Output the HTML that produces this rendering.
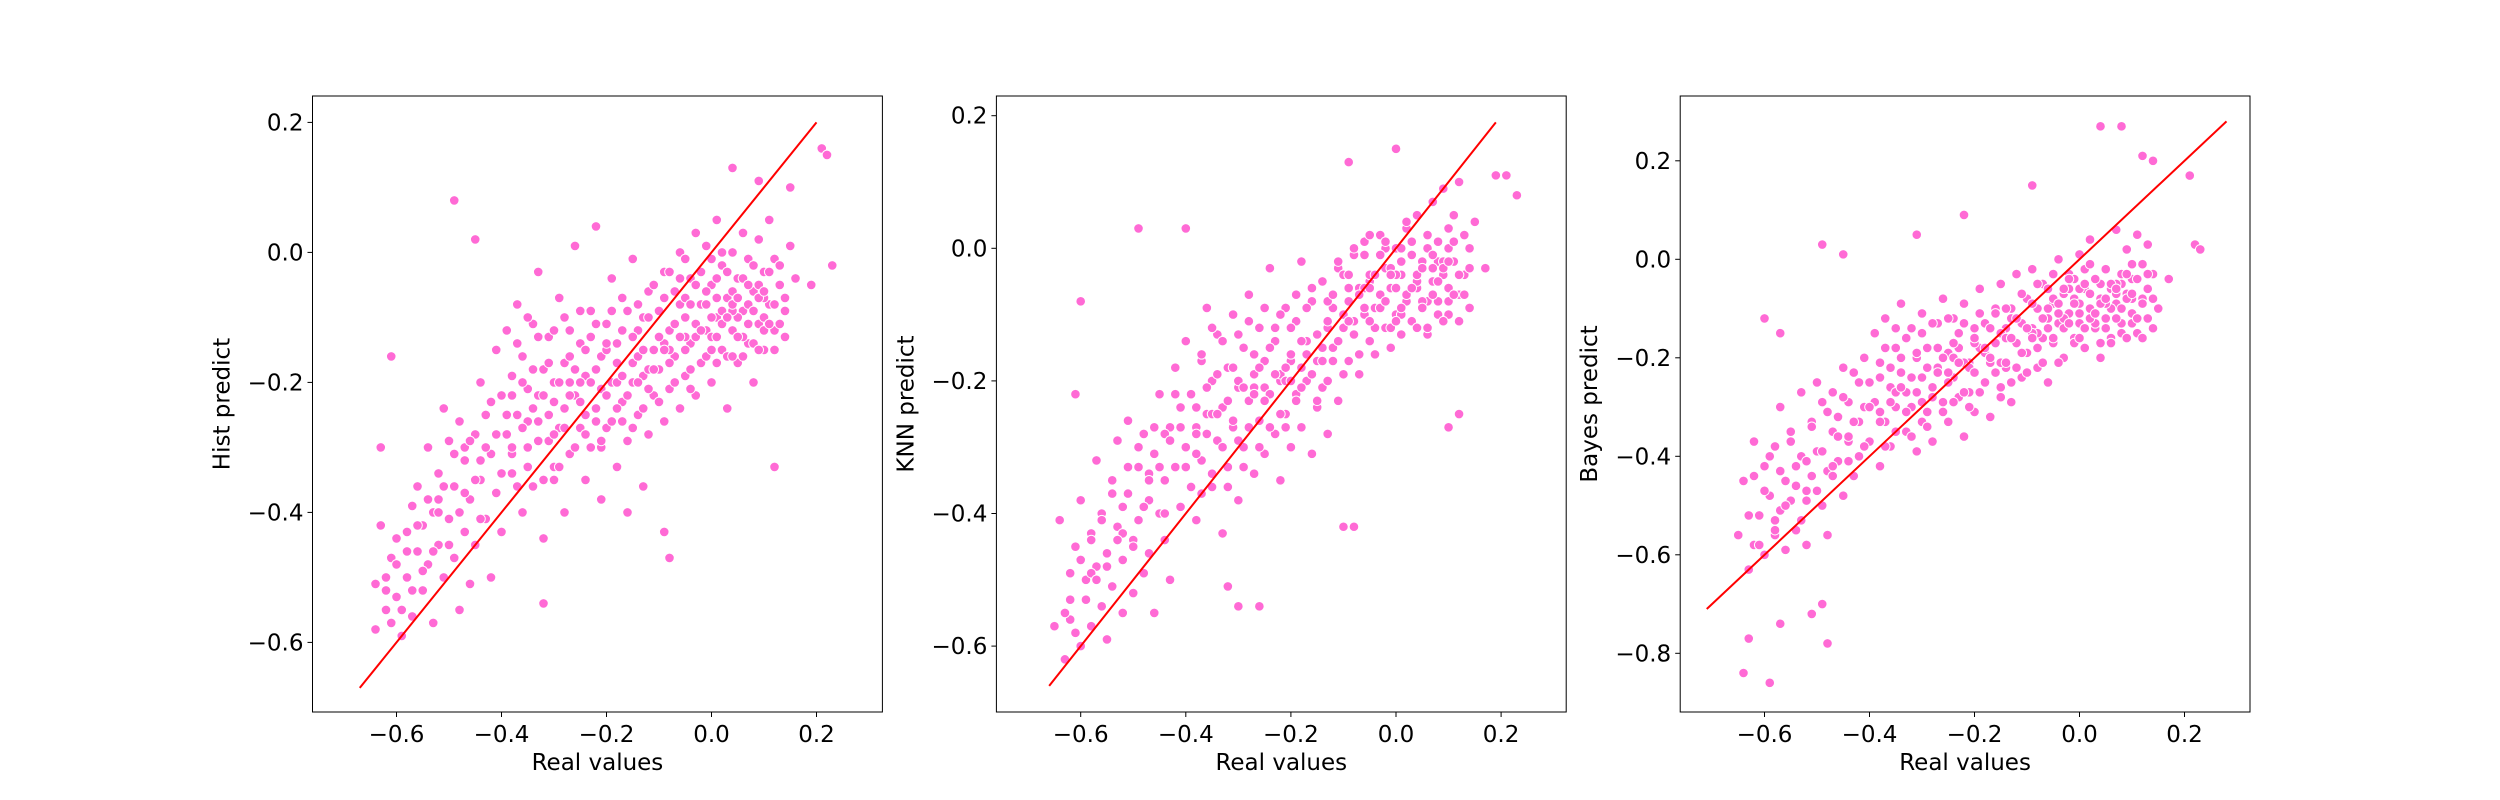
<!DOCTYPE html>
<html><head><meta charset="utf-8"><style>
html,body{margin:0;padding:0;background:#fff;}
svg{display:block;font-family:"DejaVu Sans","Liberation Sans",sans-serif;}
</style></head><body>
<svg id="fig" width="2500" height="800" viewBox="0 0 2500 800"></svg>
<script>
// ---- Panel 1: Hist predict ----
const histX = [-0.64,-0.64,-0.63,-0.62,-0.61,-0.60,-0.60,-0.59,-0.58,-0.58,-0.57,-0.57,-0.56,-0.56,-0.55,-0.55,-0.54,-0.54,-0.53,-0.53,-0.52,-0.52,-0.51,-0.51,-0.50,-0.50,-0.49,-0.49,-0.48,-0.48,-0.47,-0.47,-0.46,-0.46,-0.45,-0.45,-0.44,-0.44,-0.43,-0.43,-0.42,-0.42,-0.41,-0.41,
-0.40,-0.40,-0.39,-0.39,-0.38,-0.38,-0.37,-0.37,-0.36,-0.36,-0.35,-0.35,-0.34,-0.34,-0.33,-0.33,-0.32,-0.32,-0.31,-0.31,-0.30,-0.30,-0.29,-0.29,-0.28,-0.28,-0.27,-0.27,-0.26,-0.26,-0.25,-0.25,-0.24,-0.24,-0.23,-0.23,-0.22,-0.22,-0.21,-0.21,-0.20,-0.20,-0.19,-0.19,-0.18,-0.18,-0.17,-0.17,-0.16,-0.16,-0.15,-0.15,-0.14,-0.14,-0.13,-0.13,-0.12,-0.12,-0.11,-0.11,
-0.10,-0.10,-0.09,-0.09,-0.08,-0.08,-0.07,-0.07,-0.06,-0.06,-0.05,-0.05,-0.04,-0.04,-0.03,-0.03,-0.02,-0.02,-0.01,-0.01,0.00,0.00,0.01,0.01,0.02,0.02,0.03,0.03,0.04,0.04,0.05,0.05,0.06,0.06,0.07,0.07,0.08,0.08,0.09,0.09,0.10,0.10,0.11,0.11,0.12,0.12,0.13,0.14,0.15,0.16,
-0.06,-0.03,0.00,0.02,0.04,0.06,-0.01,0.03,0.05,0.08,-0.08,-0.04,0.00,0.07,0.09,-0.05,0.01,0.10,-0.12,-0.15,-0.18,-0.20,-0.22,-0.25,-0.28,-0.30,-0.33,-0.24,-0.14,
-0.49,-0.45,-0.61,-0.63,0.21,0.22,0.23,0.12,-0.08,-0.32,0.04,0.09,0.15,-0.09,0.19,
-0.35,-0.38,-0.30,-0.27,-0.21,-0.17,-0.13,-0.09,-0.05,-0.02,0.01,0.04,0.07,0.10,0.13,-0.44,-0.47,-0.52,-0.58,-0.62];
const histY = [-0.58,-0.51,-0.42,-0.55,-0.47,-0.53,-0.44,-0.59,-0.50,-0.43,-0.56,-0.39,-0.46,-0.36,-0.52,-0.42,-0.30,-0.48,-0.40,-0.57,-0.34,-0.45,-0.50,-0.24,-0.41,-0.29,-0.47,-0.36,-0.55,-0.26,-0.43,-0.32,-0.51,-0.38,-0.28,-0.45,-0.20,-0.35,-0.41,-0.25,-0.31,-0.50,-0.15,-0.37,
-0.22,-0.43,-0.28,-0.12,-0.34,-0.19,-0.08,-0.25,-0.40,-0.16,-0.30,-0.21,-0.11,-0.36,-0.26,-0.03,-0.18,-0.44,-0.29,-0.13,-0.23,-0.35,-0.07,-0.27,-0.17,-0.40,-0.31,-0.12,-0.22,0.01,-0.27,-0.14,-0.35,-0.19,-0.09,-0.30,0.04,-0.24,-0.16,-0.38,-0.11,-0.27,-0.20,-0.04,-0.33,-0.14,-0.23,-0.07,-0.29,-0.40,-0.17,-0.01,-0.25,-0.12,-0.36,-0.19,-0.06,-0.28,-0.15,-0.22,
-0.09,-0.18,-0.03,-0.26,-0.12,-0.21,-0.06,-0.16,0.00,-0.24,-0.10,-0.19,-0.04,-0.14,0.03,-0.22,-0.08,-0.17,-0.12,0.01,-0.05,-0.20,-0.10,0.05,-0.15,-0.02,-0.07,-0.24,-0.12,0.00,-0.04,-0.17,-0.09,0.03,-0.14,-0.01,-0.06,-0.20,-0.11,0.02,-0.03,-0.15,-0.08,0.05,-0.12,-0.01,-0.05,-0.09,0.01,-0.04,
-0.08,-0.11,-0.13,-0.09,-0.06,-0.13,-0.06,-0.16,-0.10,-0.02,-0.15,-0.18,-0.01,-0.08,-0.05,-0.07,-0.17,-0.10,-0.18,-0.13,-0.20,-0.15,-0.18,-0.20,-0.24,-0.20,-0.22,-0.25,-0.16,
0.08,0.02,-0.16,-0.30,0.16,0.15,-0.02,-0.33,-0.47,-0.54,0.13,0.11,0.10,-0.43,-0.05,
-0.26,-0.31,-0.33,-0.20,-0.30,-0.26,-0.10,-0.14,-0.13,-0.03,-0.07,-0.09,-0.11,-0.07,-0.02,-0.32,-0.30,-0.38,-0.46,-0.52];
const histX2 = [-0.38,-0.38,-0.37,-0.37,-0.36,-0.36,-0.35,-0.35,-0.34,-0.34,-0.33,-0.33,-0.32,-0.32,-0.31,-0.31,-0.30,-0.30,-0.29,-0.29,-0.28,-0.28,-0.27,-0.27,-0.26,-0.26,-0.25,-0.25,-0.24,-0.24,-0.23,-0.23,-0.22,-0.22,-0.21,-0.21,-0.20,-0.20,-0.19,-0.19,-0.18,-0.18,-0.17,-0.17,-0.16,-0.16,-0.15,-0.15,-0.14,-0.14,-0.13,-0.13,-0.12,-0.12,-0.11,-0.11,-0.10,-0.10,-0.09,-0.09,-0.08,-0.08,-0.07,-0.07,-0.06,-0.06,-0.05,-0.05,-0.04,-0.04,-0.03,-0.03,-0.02,-0.02,-0.01,-0.01,0.00,0.00,0.01,0.01,0.02,0.02,0.03,0.03,0.04,0.04,0.05,0.05,0.06,0.06,0.07,0.07,0.08,0.08,0.09,0.09,0.10,0.10,0.11,0.11,0.12,0.12,0.13,0.13,0.14,0.14,
-0.62,-0.61,-0.60,-0.59,-0.58,-0.57,-0.56,-0.55,-0.54,-0.53,-0.52,-0.51,-0.50,-0.49,-0.48,-0.47,-0.46,-0.45,-0.44,-0.43,-0.42,-0.41,-0.40,-0.39];
const histY2 = [-0.22,-0.30,-0.14,-0.36,-0.27,-0.20,-0.10,-0.33,-0.24,-0.18,-0.29,-0.13,-0.22,-0.35,-0.17,-0.25,-0.12,-0.28,-0.20,-0.33,-0.10,-0.27,-0.22,-0.16,-0.30,-0.18,-0.09,-0.23,-0.15,-0.28,-0.20,-0.13,-0.26,-0.11,-0.21,-0.29,-0.14,-0.22,-0.09,-0.26,-0.17,-0.24,-0.12,-0.19,-0.22,-0.09,-0.20,-0.27,-0.08,-0.20,-0.15,-0.24,-0.10,-0.21,-0.05,-0.18,-0.13,-0.23,-0.07,-0.15,-0.03,-0.17,-0.11,-0.20,-0.04,-0.13,-0.15,-0.01,-0.08,-0.21,-0.13,-0.05,-0.03,-0.12,-0.16,-0.08,-0.10,-0.15,-0.04,-0.13,-0.11,0.00,-0.03,-0.10,-0.16,-0.08,-0.07,-0.13,-0.04,-0.16,-0.11,-0.05,-0.14,-0.09,-0.07,-0.15,-0.12,-0.06,-0.03,-0.11,-0.08,-0.15,-0.11,-0.02,-0.07,-0.13,
-0.50,-0.57,-0.48,-0.55,-0.46,-0.52,-0.42,-0.49,-0.38,-0.46,-0.40,-0.36,-0.45,-0.31,-0.40,-0.37,-0.29,-0.35,-0.41,-0.30,-0.23,-0.28,-0.34,-0.25];

// ---- Panel 2: KNN predict ----
const knnX = [-0.65,-0.64,-0.63,-0.62,-0.61,-0.60,-0.60,-0.59,-0.58,-0.58,-0.57,-0.57,-0.56,-0.56,-0.55,-0.55,-0.54,-0.54,-0.53,-0.53,-0.52,-0.52,-0.51,-0.51,-0.50,-0.50,-0.49,-0.49,-0.48,-0.48,-0.47,-0.47,-0.46,-0.46,-0.45,-0.45,-0.44,-0.44,-0.43,-0.43,-0.42,-0.42,-0.41,-0.41,
-0.40,-0.40,-0.39,-0.39,-0.38,-0.38,-0.37,-0.37,-0.36,-0.36,-0.35,-0.35,-0.34,-0.34,-0.33,-0.33,-0.32,-0.32,-0.31,-0.31,-0.30,-0.30,-0.29,-0.29,-0.28,-0.28,-0.27,-0.27,-0.26,-0.26,-0.25,-0.25,-0.24,-0.24,-0.23,-0.23,-0.22,-0.22,-0.21,-0.21,-0.20,-0.20,-0.19,-0.19,-0.18,-0.18,-0.17,-0.17,-0.16,-0.16,-0.15,-0.15,-0.14,-0.14,-0.13,-0.13,-0.12,-0.12,-0.11,-0.11,
-0.10,-0.10,-0.09,-0.09,-0.08,-0.08,-0.07,-0.07,-0.06,-0.06,-0.05,-0.05,-0.04,-0.04,-0.03,-0.03,-0.02,-0.02,-0.01,-0.01,0.00,0.00,0.01,0.01,0.02,0.02,0.03,0.03,0.04,0.04,0.05,0.05,0.06,0.06,0.07,0.07,0.08,0.08,0.09,0.09,0.10,0.10,0.11,0.11,0.12,0.12,0.13,0.14,0.15,0.17,
-0.06,-0.03,0.00,0.02,0.04,0.06,-0.01,0.03,0.05,0.08,-0.08,-0.04,0.00,0.07,0.09,-0.05,0.01,0.10,-0.12,-0.15,-0.18,-0.20,-0.22,-0.25,-0.28,-0.30,-0.33,-0.24,-0.14,
-0.60,-0.61,-0.49,-0.40,-0.09,0.00,0.19,0.21,0.23,-0.30,-0.26,-0.10,-0.08,0.10,0.12,-0.32,
-0.35,-0.38,-0.30,-0.27,-0.21,-0.17,-0.13,-0.09,-0.05,-0.02,0.01,0.04,0.07,0.10,0.13,-0.44,-0.47,-0.52,-0.58,-0.62];
const knnY = [-0.57,-0.41,-0.62,-0.53,-0.45,-0.60,-0.38,-0.50,-0.57,-0.43,-0.48,-0.32,-0.54,-0.40,-0.46,-0.59,-0.35,-0.51,-0.42,-0.29,-0.47,-0.55,-0.37,-0.26,-0.44,-0.52,-0.33,-0.41,-0.49,-0.28,-0.38,-0.46,-0.31,-0.55,-0.40,-0.22,-0.35,-0.44,-0.27,-0.50,-0.33,-0.18,-0.39,-0.24,
-0.30,-0.14,-0.36,-0.22,-0.27,-0.41,-0.17,-0.32,-0.25,-0.09,-0.36,-0.20,-0.29,-0.13,-0.24,-0.43,-0.18,-0.33,-0.10,-0.27,-0.21,-0.38,-0.15,-0.30,-0.23,-0.07,-0.34,-0.19,-0.26,-0.12,-0.31,-0.17,-0.22,-0.03,-0.28,-0.14,-0.20,-0.35,-0.09,-0.25,-0.17,-0.30,-0.11,-0.22,-0.02,-0.27,-0.14,-0.20,-0.08,-0.31,-0.17,-0.24,-0.05,-0.21,-0.12,-0.28,-0.15,-0.09,-0.23,-0.03,
-0.12,-0.04,-0.17,-0.08,-0.01,-0.13,-0.06,-0.19,-0.10,0.01,-0.14,-0.05,-0.09,-0.16,0.02,-0.07,-0.12,-0.03,-0.15,-0.06,0.00,-0.10,-0.04,-0.13,0.03,-0.08,-0.11,-0.01,-0.06,0.05,-0.09,-0.02,-0.13,0.02,-0.05,0.07,-0.08,0.01,-0.04,0.09,-0.10,0.03,-0.02,0.05,-0.07,0.10,-0.04,0.00,0.04,-0.03,
-0.06,-0.09,-0.10,-0.07,-0.05,-0.08,-0.03,-0.11,-0.08,-0.02,-0.11,-0.12,-0.04,-0.05,-0.02,-0.04,-0.10,-0.06,-0.15,-0.13,-0.18,-0.16,-0.19,-0.21,-0.23,-0.20,-0.24,-0.22,-0.15,
-0.08,-0.22,0.03,0.03,0.13,0.15,0.11,0.11,0.08,-0.54,-0.54,-0.42,-0.42,-0.27,-0.25,-0.51,
-0.25,-0.28,-0.29,-0.21,-0.18,-0.16,-0.08,-0.06,-0.06,0.00,-0.02,-0.04,-0.03,0.00,0.02,-0.28,-0.34,-0.43,-0.49,-0.56];
const knnX2 = [-0.38,-0.38,-0.37,-0.37,-0.36,-0.36,-0.35,-0.35,-0.34,-0.34,-0.33,-0.33,-0.32,-0.32,-0.31,-0.31,-0.30,-0.30,-0.29,-0.29,-0.28,-0.28,-0.27,-0.27,-0.26,-0.26,-0.25,-0.25,-0.24,-0.24,-0.23,-0.23,-0.22,-0.22,-0.21,-0.21,-0.20,-0.20,-0.19,-0.19,-0.18,-0.18,-0.17,-0.17,-0.16,-0.16,-0.15,-0.15,-0.14,-0.14,-0.13,-0.13,-0.12,-0.12,-0.11,-0.11,-0.10,-0.10,-0.09,-0.09,-0.08,-0.08,-0.07,-0.07,-0.06,-0.06,-0.05,-0.05,-0.04,-0.04,-0.03,-0.03,-0.02,-0.02,-0.01,-0.01,0.00,0.00,0.01,0.01,0.02,0.02,0.03,0.03,0.04,0.04,0.05,0.05,0.06,0.06,0.07,0.07,0.08,0.08,0.09,0.09,0.10,0.10,0.11,0.11,0.12,0.12,0.13,0.13,0.14,0.14,
-0.63,-0.62,-0.61,-0.60,-0.59,-0.58,-0.57,-0.56,-0.55,-0.54,-0.53,-0.52,-0.51,-0.50,-0.49,-0.48,-0.47,-0.46,-0.45,-0.44,-0.43,-0.42,-0.41,-0.40];
const knnY2 = [-0.24,-0.31,-0.16,-0.37,-0.28,-0.21,-0.12,-0.34,-0.25,-0.19,-0.30,-0.14,-0.23,-0.36,-0.18,-0.26,-0.13,-0.29,-0.21,-0.33,-0.11,-0.27,-0.22,-0.16,-0.30,-0.18,-0.09,-0.23,-0.15,-0.27,-0.19,-0.12,-0.25,-0.10,-0.20,-0.27,-0.12,-0.20,-0.07,-0.23,-0.14,-0.21,-0.09,-0.16,-0.19,-0.06,-0.17,-0.23,-0.05,-0.17,-0.11,-0.20,-0.07,-0.17,-0.02,-0.14,-0.10,-0.19,-0.04,-0.11,0.00,-0.13,-0.07,-0.16,-0.01,-0.09,-0.11,0.02,-0.04,-0.16,-0.09,-0.01,0.01,-0.08,-0.12,-0.04,-0.06,-0.11,0.00,-0.09,-0.07,0.04,0.01,-0.06,-0.12,-0.04,-0.03,-0.09,0.00,-0.12,-0.07,-0.01,-0.10,-0.05,-0.03,-0.11,-0.08,-0.02,0.01,-0.07,-0.04,-0.11,-0.07,0.02,-0.03,-0.09,
-0.55,-0.49,-0.58,-0.47,-0.53,-0.44,-0.50,-0.41,-0.48,-0.37,-0.44,-0.39,-0.33,-0.45,-0.30,-0.39,-0.35,-0.27,-0.33,-0.40,-0.29,-0.22,-0.27,-0.33];

// ---- Panel 3: Bayes predict ----
const bayesX = [-0.65,-0.64,-0.63,-0.62,-0.61,-0.60,-0.60,-0.59,-0.58,-0.58,-0.57,-0.57,-0.56,-0.56,-0.55,-0.55,-0.54,-0.54,-0.53,-0.53,-0.52,-0.52,-0.51,-0.51,-0.50,-0.50,-0.49,-0.49,-0.48,-0.48,-0.47,-0.47,-0.46,-0.46,-0.45,-0.45,-0.44,-0.44,-0.43,-0.43,-0.42,-0.42,-0.41,-0.41,
-0.40,-0.40,-0.39,-0.39,-0.38,-0.38,-0.37,-0.37,-0.36,-0.36,-0.35,-0.35,-0.34,-0.34,-0.33,-0.33,-0.32,-0.32,-0.31,-0.31,-0.30,-0.30,-0.29,-0.29,-0.28,-0.28,-0.27,-0.27,-0.26,-0.26,-0.25,-0.25,-0.24,-0.24,-0.23,-0.23,-0.22,-0.22,-0.21,-0.21,-0.20,-0.20,-0.19,-0.19,-0.18,-0.18,-0.17,-0.17,-0.16,-0.16,-0.15,-0.15,-0.14,-0.14,-0.13,-0.13,-0.12,-0.12,-0.11,-0.11,
-0.10,-0.10,-0.09,-0.09,-0.08,-0.08,-0.07,-0.07,-0.06,-0.06,-0.05,-0.05,-0.04,-0.04,-0.03,-0.03,-0.02,-0.02,-0.01,-0.01,0.00,0.00,0.01,0.01,0.02,0.02,0.03,0.03,0.04,0.04,0.05,0.05,0.06,0.06,0.07,0.07,0.08,0.08,0.09,0.09,0.10,0.10,0.11,0.11,0.12,0.12,0.13,0.14,0.15,0.17,
-0.06,-0.03,0.00,0.02,0.04,0.06,-0.01,0.03,0.05,0.08,-0.08,-0.04,0.00,0.07,0.09,-0.05,0.01,0.10,-0.12,-0.15,-0.18,-0.20,-0.22,-0.25,-0.28,-0.30,-0.33,-0.24,-0.14,
-0.64,-0.59,-0.63,-0.57,-0.48,-0.49,-0.51,-0.60,-0.57,-0.49,-0.45,-0.31,0.04,0.08,0.12,0.14,0.21,0.22,0.23,-0.22,-0.09,
-0.35,-0.38,-0.30,-0.27,-0.21,-0.17,-0.13,-0.09,-0.05,-0.02,0.01,0.04,0.07,0.10,0.13,-0.44,-0.47,-0.52,-0.58,-0.62];
const bayesY = [-0.56,-0.45,-0.63,-0.37,-0.52,-0.60,-0.42,-0.48,-0.56,-0.38,-0.51,-0.30,-0.45,-0.59,-0.35,-0.49,-0.42,-0.55,-0.27,-0.40,-0.47,-0.58,-0.33,-0.44,-0.25,-0.39,-0.50,-0.29,-0.43,-0.56,-0.35,-0.27,-0.41,-0.32,-0.48,-0.22,-0.37,-0.29,-0.44,-0.23,-0.33,-0.40,-0.20,-0.30,
-0.25,-0.37,-0.15,-0.29,-0.42,-0.21,-0.33,-0.12,-0.26,-0.38,-0.18,-0.30,-0.23,-0.09,-0.35,-0.27,-0.14,-0.30,-0.20,-0.39,-0.24,-0.11,-0.31,-0.18,-0.26,-0.37,-0.13,-0.22,-0.29,-0.08,-0.19,-0.33,-0.24,-0.12,-0.28,-0.18,-0.36,-0.09,-0.21,-0.27,-0.14,-0.31,-0.18,-0.06,-0.25,-0.13,-0.21,-0.32,-0.10,-0.17,-0.26,-0.05,-0.14,-0.22,-0.29,-0.10,-0.17,-0.03,-0.24,-0.13,
-0.08,-0.19,-0.14,-0.02,-0.22,-0.10,-0.16,-0.05,-0.12,-0.25,-0.09,-0.17,0.00,-0.13,-0.07,-0.20,-0.11,-0.03,-0.16,-0.08,-0.13,0.01,-0.06,-0.18,-0.10,0.04,-0.14,-0.04,-0.08,-0.20,-0.02,-0.12,-0.06,-0.16,0.06,-0.09,-0.03,-0.13,-0.07,0.02,-0.11,-0.04,-0.15,0.05,-0.08,-0.01,-0.06,-0.03,-0.10,-0.04,
-0.10,-0.12,-0.09,-0.07,-0.05,-0.10,-0.04,-0.13,-0.09,-0.05,-0.15,-0.11,-0.06,-0.07,-0.03,-0.08,-0.14,-0.08,-0.17,-0.15,-0.19,-0.17,-0.21,-0.23,-0.26,-0.24,-0.27,-0.20,-0.16,
-0.84,-0.86,-0.77,-0.74,-0.78,-0.70,-0.72,-0.12,-0.15,0.03,0.01,0.05,0.27,0.27,0.21,0.20,0.17,0.03,0.02,0.09,0.15,
-0.27,-0.31,-0.33,-0.22,-0.27,-0.20,-0.12,-0.15,-0.08,-0.06,-0.02,-0.09,-0.05,-0.01,0.03,-0.36,-0.42,-0.49,-0.53,-0.58];
const bayesX2 = [-0.38,-0.38,-0.37,-0.37,-0.36,-0.36,-0.35,-0.35,-0.34,-0.34,-0.33,-0.33,-0.32,-0.32,-0.31,-0.31,-0.30,-0.30,-0.29,-0.29,-0.28,-0.28,-0.27,-0.27,-0.26,-0.26,-0.25,-0.25,-0.24,-0.24,-0.23,-0.23,-0.22,-0.22,-0.21,-0.21,-0.20,-0.20,-0.19,-0.19,-0.18,-0.18,-0.17,-0.17,-0.16,-0.16,-0.15,-0.15,-0.14,-0.14,-0.13,-0.13,-0.12,-0.12,-0.11,-0.11,-0.10,-0.10,-0.09,-0.09,-0.08,-0.08,-0.07,-0.07,-0.06,-0.06,-0.05,-0.05,-0.04,-0.04,-0.03,-0.03,-0.02,-0.02,-0.01,-0.01,0.00,0.00,0.01,0.01,0.02,0.02,0.03,0.03,0.04,0.04,0.05,0.05,0.06,0.06,0.07,0.07,0.08,0.08,0.09,0.09,0.10,0.10,0.11,0.11,0.12,0.12,0.13,0.13,0.14,0.14,
-0.63,-0.62,-0.61,-0.60,-0.59,-0.58,-0.57,-0.56,-0.55,-0.54,-0.53,-0.52,-0.51,-0.50,-0.49,-0.48,-0.47,-0.46,-0.45,-0.44,-0.43,-0.42,-0.41,-0.40];
const bayesY2 = [-0.24,-0.33,-0.18,-0.38,-0.29,-0.22,-0.14,-0.35,-0.26,-0.20,-0.31,-0.16,-0.24,-0.36,-0.19,-0.27,-0.15,-0.29,-0.22,-0.34,-0.13,-0.28,-0.23,-0.18,-0.31,-0.20,-0.12,-0.25,-0.17,-0.29,-0.21,-0.15,-0.27,-0.13,-0.22,-0.30,-0.16,-0.23,-0.11,-0.27,-0.18,-0.25,-0.14,-0.20,-0.23,-0.11,-0.21,-0.28,-0.10,-0.21,-0.16,-0.25,-0.12,-0.22,-0.07,-0.19,-0.14,-0.23,-0.09,-0.16,-0.05,-0.18,-0.12,-0.21,-0.06,-0.14,-0.16,-0.03,-0.09,-0.21,-0.14,-0.06,-0.04,-0.13,-0.17,-0.09,-0.11,-0.16,-0.05,-0.14,-0.12,-0.01,-0.04,-0.11,-0.17,-0.09,-0.08,-0.14,-0.05,-0.17,-0.12,-0.06,-0.15,-0.10,-0.08,-0.16,-0.13,-0.07,-0.04,-0.12,-0.09,-0.16,-0.12,-0.03,-0.08,-0.14,
-0.52,-0.44,-0.58,-0.47,-0.40,-0.55,-0.43,-0.50,-0.37,-0.46,-0.53,-0.41,-0.34,-0.47,-0.39,-0.31,-0.44,-0.36,-0.28,-0.41,-0.33,-0.25,-0.38,-0.30];

// Tick label arrays
const xTicks = [-0.6,-0.4,-0.2,0.0,0.2];
const yTicks12 = [-0.6,-0.4,-0.2,0.0,0.2];
const yTicks3 = [-0.8,-0.6,-0.4,-0.2,0.0,0.2];
const diagHist = [-0.67,0.2];
const diagKnn = [-0.66,0.19];
const diagBayes = [-0.71,0.28];

const panels = [
  {name:'hist', label:'Hist predict', xs:histX.concat(histX2), ys:histY.concat(histY2), yt:yTicks12, diag:diagHist,
   left:312.5, right:882.4, x0:711.5, kx:525, y0:252.4, ky:650},
  {name:'knn', label:'KNN predict', xs:knnX.concat(knnX2), ys:knnY.concat(knnY2), yt:yTicks12, diag:diagKnn,
   left:996.4, right:1566.2, x0:1396, kx:525.5, y0:248.3, ky:663},
  {name:'bayes', label:'Bayes predict', xs:bayesX.concat(bayesX2), ys:bayesY.concat(bayesY2), yt:yTicks3, diag:diagBayes,
   left:1680.2, right:2250, x0:2079.5, kx:525, y0:259.3, ky:492.5}
];
const TOP=96, BOTTOM=712;
const NS='http://www.w3.org/2000/svg';
const svg=document.getElementById('fig');
function mk(tag, attrs, parent){const e=document.createElementNS(NS,tag);for(const k in attrs)e.setAttribute(k,attrs[k]);(parent||svg).appendChild(e);return e;}
function fmt(v){const s=Math.abs(v).toFixed(1);return (v<-1e-9?'\u2212':'')+s;}

panels.forEach(p=>{
  const sx=v=>p.x0+v*p.kx, sy=v=>p.y0-v*p.ky;
  const g=mk('g',{});
  
  
  const clipId='clip-'+p.name;
  const cp=mk('clipPath',{id:clipId},g);
  mk('rect',{x:p.left,y:TOP,width:p.right-p.left,height:BOTTOM-TOP},cp);
  const pts=mk('g',{'clip-path':'url(#'+clipId+')'},g);
  
  
  for(let i=0;i<p.xs.length;i++){
    const c=mk('circle',{cx:sx(p.xs[i]),cy:sy(p.ys[i]),r:4.8,fill:'#ff6ad5',stroke:'#ffffff','stroke-width':1},pts);
    
    
  }
  const ln=mk('line',{x1:sx(p.diag[0]),y1:sy(p.diag[0]),x2:sx(p.diag[1]),y2:sy(p.diag[1]),stroke:'#ff0000','stroke-width':2},g);
  
  
  const fr=mk('rect',{x:p.left,y:TOP,width:p.right-p.left,height:BOTTOM-TOP,fill:'none',stroke:'#000','stroke-width':1},g);
  
  
  xTicks.forEach(t=>{
    const x=sx(t);
    mk('line',{x1:x,y1:BOTTOM,x2:x,y2:BOTTOM+5,stroke:'#000','stroke-width':1},g);
    const tx=mk('text',{x:x,y:742,'font-size':23,'text-anchor':'middle',fill:'#000'},g);
    tx.textContent=fmt(t);
    
    
  });
  p.yt.forEach(t=>{
    const y=sy(t);
    mk('line',{x1:p.left-5,y1:y,x2:p.left,y2:y,stroke:'#000','stroke-width':1},g);
    const tx=mk('text',{x:p.left-9,y:y+8,'font-size':23,'text-anchor':'end',fill:'#000'},g);
    tx.textContent=fmt(t);
    
    
  });
  const xl=mk('text',{x:(p.left+p.right)/2,y:770,'font-size':23,'text-anchor':'middle',fill:'#000'},g);
  xl.textContent='Real values';
  
  
  const cx=p.left-83, cy=(TOP+BOTTOM)/2;
  const yl=mk('text',{x:cx,y:cy,'font-size':23,'text-anchor':'middle',fill:'#000',transform:'rotate(-90 '+cx+' '+cy+')'},g);
  yl.textContent=p.label;
  
  
});
</script>
</body></html>
